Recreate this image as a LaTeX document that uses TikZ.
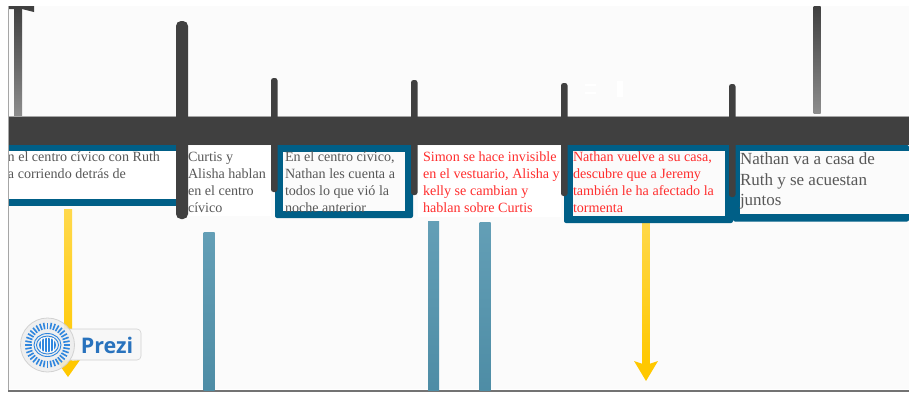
\documentclass[tikz,border=0pt]{standalone}
\usepackage{fontspec}
\setmainfont{Liberation Serif}
\newfontfamily\logofont{Open Sans}
\definecolor{bg}{HTML}{FBFBFB}
\definecolor{barc}{HTML}{404040}
\definecolor{teal}{HTML}{005F87}
\definecolor{greytxt}{HTML}{585858}
\definecolor{redtxt}{HTML}{FF2D2D}
\definecolor{amber}{HTML}{FFC800}
\definecolor{steel}{HTML}{5294AE}
\definecolor{logoblue}{HTML}{2F86DE}
\tikzset{
  tick/.style={draw=none,fill=barc,rounded corners=2.5pt},
  txt/.style={anchor=north west,inner sep=0pt,outer sep=0pt,align=left,font=\fontsize{14.1}{17}\selectfont,text=greytxt},
  redt/.style={txt,text=redtxt},
  ghost/.style={top color=barc,bottom color=barc!60!white},
}
\begin{document}
\begin{tikzpicture}[x=1pt,y=-1pt]
\useasboundingbox (0,0) rectangle (909,392);
\fill[white] (0,0) rectangle (909,392);
\fill[bg] (9,6) rectangle (909,389);
\draw[black!35,line width=1pt] (8.5,6) -- (8.5,390);
\fill[black!55] (8,389.5) rectangle (909,392);
% upper grey stems
\shade[ghost] (14,6) rectangle (22,116);
\fill[barc] (9,6) -- (34,6) -- (34,12) -- (22,9) -- (14,9) -- (9,9) -- cycle;
\shade[ghost] (813.5,6) rectangle (820.5,113);
% faint marks
\fill[white] (585,84) rectangle (596,86);
\fill[white] (585,92) rectangle (596,94);
\fill[white] (617,81) rectangle (623,97);
% steel bars
\shade[top color=steel!90!white,bottom color=steel!95!black] (203.5,232) rectangle (214.5,390);
\shade[top color=steel!90!white,bottom color=steel!95!black] (428,221) rectangle (439,390);
\shade[top color=steel!90!white,bottom color=steel!95!black] (479.5,222) rectangle (490.5,390);
% amber arrows
\shade[top color=amber!70!white,bottom color=amber] (64,209) rectangle (72,362);
\fill[amber] (56,360) -- (68,361) -- (80,360) -- (68,377) -- cycle;
\shade[top color=amber!70!white,bottom color=amber] (642.5,216) rectangle (649.5,364);
\fill[amber] (634,361) -- (646,365) -- (658,361) -- (646,381) -- cycle;
% frames and texts
\fill[teal] (9,144) rectangle (176,151);
\fill[teal] (9,199) rectangle (176,206);
\fill[white] (9,151) rectangle (176,199);
\begin{scope}
\clip (9,145) rectangle (176,199);
\node[txt,anchor=north east] (t1a) at (160,152) {En el centro cívico con Ruth};
\node[txt] (t1b) at (8,169) {a corriendo detrás de};
\end{scope}
\fill[rounded corners=2pt,teal] (275,145) rectangle (413,218);
\fill[bg] (283,152) rectangle (405,211);
\begin{scope}
\clip (283,150) rectangle (405,211);
\node[txt] (t3) at (285,152) {En el centro cívico,\\Nathan les cuenta a\\todos lo que vió la\\noche anterior};
\end{scope}
\fill[rounded corners=2pt,teal] (564,145) rectangle (733,223);
\fill[bg] (573,151) rectangle (725,216);
\fill[rounded corners=2pt,teal] (733,145) rectangle (909,221.5);
\fill[bg] (740,151) rectangle (909,214);
\fill[white] (189,146) rectangle (271,216);
\node[txt] (t2) at (188,152) {Curtis y\\Alisha hablan\\en el centro\\cívico};
\fill[white] (418,146) rectangle (561,217);
\node[redt] (t4) at (423,152) {Simon se hace invisible\\en el vestuario, Alisha y\\kelly se cambian y\\hablan sobre Curtis};
\node[redt] (t5) at (573,152) {Nathan vuelve a su casa,\\descubre que a Jeremy\\también le ha afectado la\\tormenta};
\node[txt,font=\fontsize{17}{20.3}\selectfont] (t6) at (740,153) {Nathan va a casa de\\Ruth y se acuestan\\juntos};
% main bar
\fill[barc] (9,116) rectangle (909,144.5);
\draw[black!35,line width=.6pt] (9,116) -- (909,116);
% ticks
\fill[tick,rounded corners=5pt] (176,21) rectangle (188,219);
\fill[tick] (271,78) rectangle (277.5,192);
\fill[tick] (411,80) rectangle (417.5,195);
\fill[tick] (561,83) rectangle (567.5,196);
\fill[tick] (729,84) rectangle (735.5,197);
% logo
\fill[white!97!black,draw=black!18,line width=.6pt,rounded corners=4pt] (60,329) rectangle (141,360);
\fill[white!93!black,opacity=.85,draw=black!20,line width=.8pt] (47.5,345) circle (27);
\foreach \a in {0,10,...,350}
  \draw[logoblue,line width=1.6pt] (47.5,345) ++(\a:16) -- ++(\a:6.5);
\foreach \r/\s in {13.5/11.5,11/9}
  \draw[logoblue,line width=.9pt] (47.5,345) ellipse ({\r} and {\s});
\fill[logoblue] (47.5,345) ellipse (8.5 and 7);
\foreach \d in {-6,-3,0,3,6}
  \fill[white] (47.5+\d-.6,338) rectangle (47.5+\d+.6,352);
\node[inner sep=0pt,text=logoblue!85!black,font=\logofont\bfseries\fontsize{21.5}{23}\selectfont] (prezi) at (107,345) {Prezi};
\end{tikzpicture}
\end{document}
